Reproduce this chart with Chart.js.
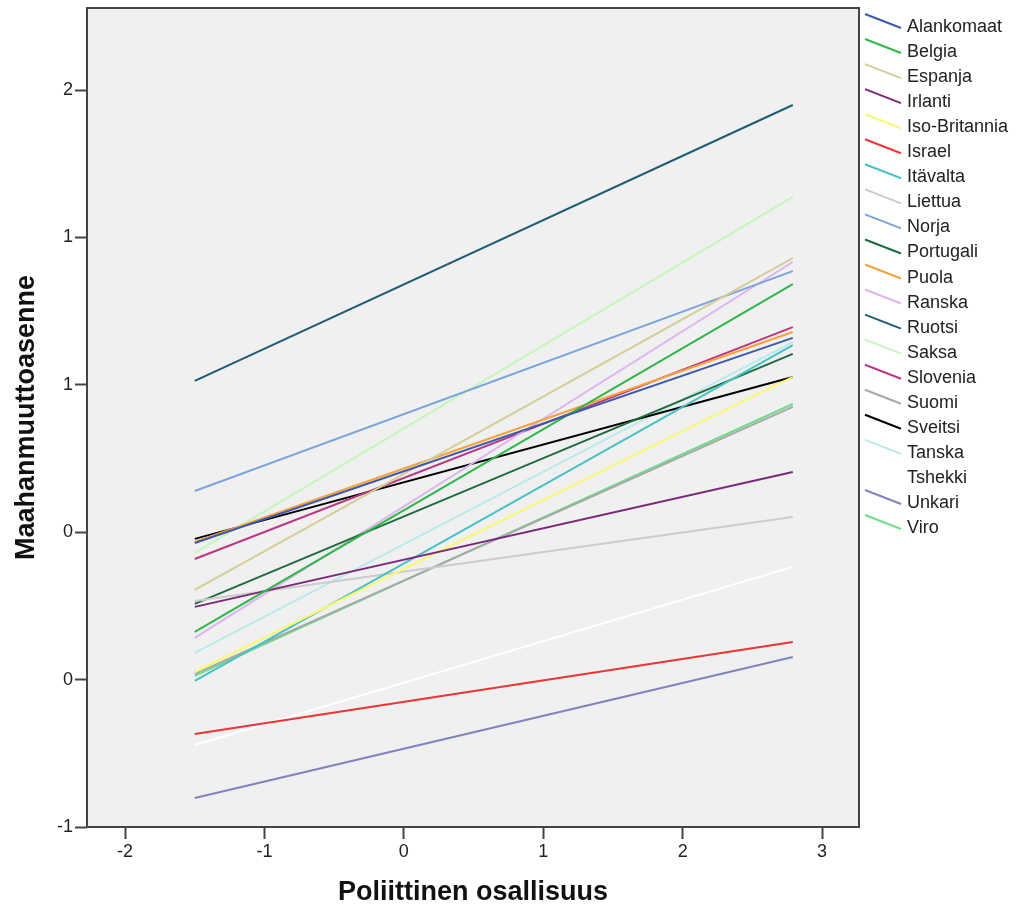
<!DOCTYPE html>
<html>
<head>
<meta charset="utf-8">
<script src="https://cdn.jsdelivr.net/npm/chart.js@4"></script>
<style>
  html, body { margin: 0; padding: 0; background: #ffffff; }
  #wrap { width: 1021px; height: 915px; }
</style>
</head>
<body>
<div id="wrap"><canvas id="lineChart" width="1021" height="915"></canvas></div>
<script>
// countries in legend order
const countries = ['Alankomaat', 'Belgia', 'Espanja', 'Irlanti', 'Iso-Britannia', 'Israel', 'Itävalta',
    'Liettua', 'Norja', 'Portugali', 'Puola', 'Ranska', 'Ruotsi', 'Saksa', 'Slovenia', 'Suomi',
    'Sveitsi', 'Tanska', 'Tshekki', 'Unkari', 'Viro'];

// fitted attitude at the low and high end of political participation
const startValues = [0.156, -0.206, -0.035, -0.104, -0.369, -0.621, -0.405,
    -0.080, 0.368, -0.092, 0.160, -0.230, 0.816, 0.116, 0.091, -0.377,
    0.173, -0.291, -0.666, -0.882, -0.385];
const endValues = [0.991, 1.210, 1.316, 0.445, 0.832, -0.247, 0.962,
    0.262, 1.263, 0.926, 1.015, 1.300, 1.939, 1.565, 1.035, 0.710,
    0.832, 0.974, 0.059, -0.308, 0.722];

const xStart = -1.5;
const xEnd = 2.79;

const xTicks = [-2, -1, 0, 1, 2, 3];
const yTicks = [-1, -0.4, 0.2, 0.8, 1.4, 2];
const yTickLabels = ['-1', '0', '0', '1', '1', '2'];

const lineColors = ['#3e58ac', '#2eb848', '#d3ce97', '#7c287d', '#fbf873', '#ef3338', '#48c2c5',
    '#cccccc', '#7ba4dd', '#1e6c3f', '#f8a13b', '#dcb4f0', '#1f5c75', '#c4f5bb', '#ba3782', '#a8a8a8',
    '#000000', '#b9ebe9', '#ffffff', '#8282be', '#6edc8c'];

const FONT = '"Liberation Sans", Arial, sans-serif';

const datasets = countries.map((name, i) => ({
    label: name,
    data: [{ x: xStart, y: startValues[i] }, { x: xEnd, y: endValues[i] }],
    borderColor: lineColors[i],
    backgroundColor: lineColors[i],
    borderWidth: 2,
    pointRadius: 0,
    fill: false,
    tension: 0
}));

// grey plot area and dark frame, like the SPSS output
const framePlugin = {
    id: 'frame',
    beforeDatasetsDraw(chart) {
        const { ctx, chartArea: a } = chart;
        ctx.save();
        ctx.fillStyle = '#f0f0f0';
        ctx.fillRect(a.left, a.top, a.right - a.left, a.bottom - a.top);
        ctx.restore();
    },
    afterDatasetsDraw(chart) {
        const { ctx, chartArea: a } = chart;
        ctx.save();
        ctx.strokeStyle = '#444444';
        ctx.lineWidth = 2;
        ctx.strokeRect(a.left, a.top, a.right - a.left, a.bottom - a.top);
        ctx.restore();
    }
};

// legend with slanted line samples
const legendPlugin = {
    id: 'slantLegend',
    afterDraw(chart) {
        const { ctx, chartArea: a } = chart;
        const x0 = a.right + 6;
        ctx.save();
        ctx.font = '18px ' + FONT;
        ctx.textBaseline = 'alphabetic';
        ctx.textAlign = 'left';
        chart.data.datasets.forEach((ds, i) => {
            const base = 32 + i * 25.05;
            ctx.strokeStyle = ds.borderColor;
            ctx.lineWidth = 2;
            ctx.beginPath();
            ctx.moveTo(x0, base - 18);
            ctx.lineTo(x0 + 36, base - 4);
            ctx.stroke();
            ctx.fillStyle = '#222222';
            ctx.fillText(ds.label, x0 + 42, base);
        });
        ctx.restore();
    }
};

const ctx = document.getElementById('lineChart').getContext('2d');
new Chart(ctx, {
    type: 'line',
    data: { datasets },
    plugins: [framePlugin, legendPlugin],
    options: {
        responsive: false,
        animation: false,
        layout: { padding: { top: 8, right: 162, left: 0, bottom: 0 } },
        plugins: {
            legend: { display: false },
            tooltip: { enabled: false }
        },
        scales: {
            x: {
                type: 'linear',
                min: -2.273,
                max: 3.265,
                afterBuildTicks: scale => { scale.ticks = xTicks.map(v => ({ value: v })); },
                afterFit: scale => {
                    scale.height = 88;
                    scale.paddingLeft = 0;
                    scale.paddingRight = 0;
                },
                grid: { drawOnChartArea: false, drawTicks: true, tickLength: 12, tickWidth: 2, tickColor: '#444444' },
                border: { display: false },
                ticks: {
                    color: '#222222',
                    padding: 2,
                    maxRotation: 0,
                    font: { family: FONT, size: 18 },
                    callback: value => String(value)
                },
                title: {
                    display: true,
                    text: 'Poliittinen osallisuus',
                    color: '#111111',
                    font: { family: FONT, size: 27, weight: 'bold', lineHeight: 1 },
                    padding: { top: 0, bottom: 8.5 }
                }
            },
            y: {
                type: 'linear',
                min: -1,
                max: 2.334,
                afterBuildTicks: scale => { scale.ticks = yTicks.map(v => ({ value: v })); },
                afterFit: scale => {
                    scale.width = 87;
                    scale.paddingTop = 0;
                    scale.paddingBottom = 0;
                },
                grid: { drawOnChartArea: false, drawTicks: true, tickLength: 12, tickWidth: 2, tickColor: '#444444' },
                border: { display: false },
                ticks: {
                    color: '#222222',
                    padding: 2,
                    font: { family: FONT, size: 18 },
                    callback: (value, index) => yTickLabels[index]
                },
                title: {
                    display: true,
                    text: 'Maahanmuuttoasenne',
                    color: '#111111',
                    font: { family: FONT, size: 27, weight: 'bold', lineHeight: 1 },
                    padding: { top: 13.5, bottom: 0 }
                }
            }
        }
    }
});
</script>
</body>
</html>
